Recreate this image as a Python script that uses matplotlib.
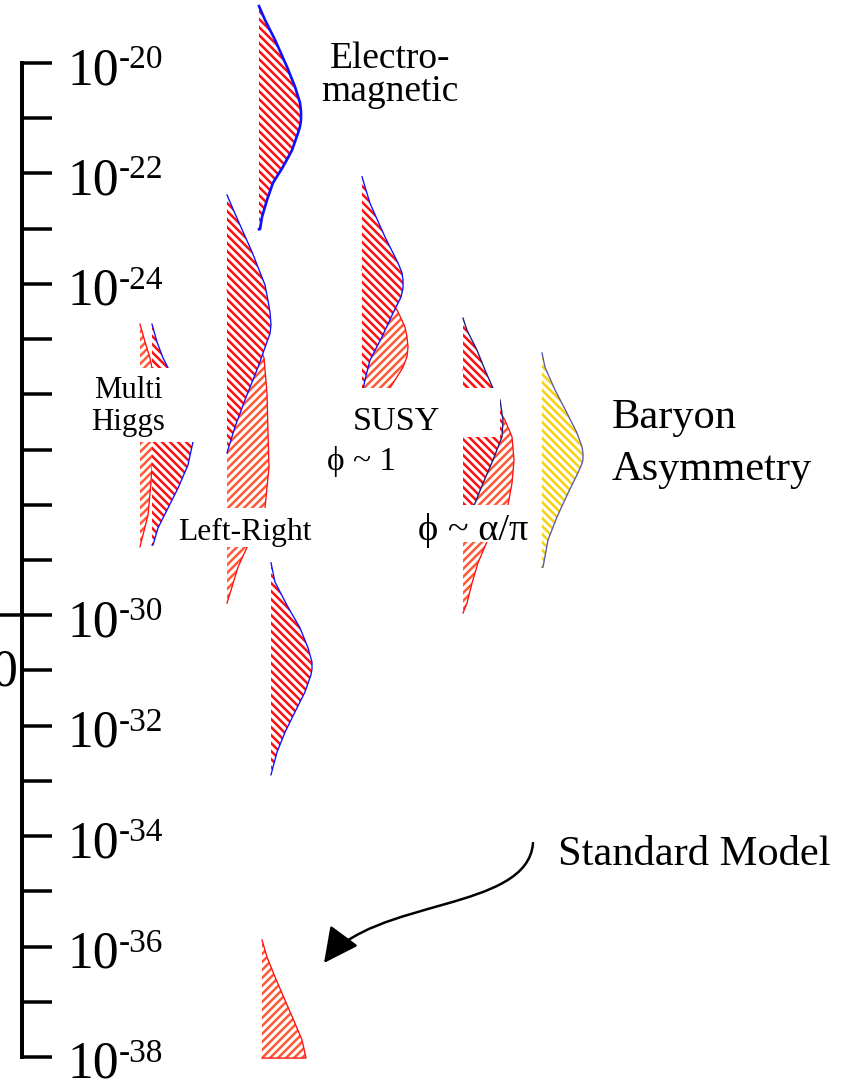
import matplotlib
matplotlib.use("Agg")
import matplotlib.pyplot as plt
import matplotlib.transforms as mtransforms
from matplotlib.patches import Rectangle, FancyArrowPatch
from matplotlib.path import Path
import numpy as np

plt.rcParams['font.family'] = ['Liberation Serif', 'DejaVu Serif']
plt.rcParams['hatch.linewidth'] = 1.5

W, H, DPI = 847, 1083, 120

# decades on the scale (exponent of 10)
tick_exps = list(range(-20, -39, -1))
label_exps = [-20, -22, -24, -30, -32, -34, -36, -38]

# distributions: log10 value along the scale, and profile width
em_exp = [-18.97, -19.22, -19.58, -20.07, -20.43, -20.72, -20.88, -21.03, -21.15, -21.27, -21.58, -21.88, -22.17, -22.48, -22.79, -23.01]
em_w = [0, 6, 16, 28, 36, 41, 42, 42, 41, 39, 33, 24, 14, 8, 3, 1]

lr_exp = [-22.39, -22.81, -23.42, -24.02, -24.30, -24.51, -24.74, -24.90, -25.05, -25.51, -26.10, -26.59, -27.06]
lr_w = [0, 10, 25, 38, 41, 43, 44, 43, 40, 31, 18, 8, 0]
lr2_exp = [-24.11, -24.65, -25.34, -25.98, -26.70, -27.32, -28.06, -28.42, -28.77, -29.13, -29.49, -29.78]
lr2_w = [0, 22, 37, 40, 41, 42, 38, 28, 20, 11, 5, 0]
lr3_exp = [-29.05, -29.40, -29.82, -30.23, -30.59, -30.72, -30.85, -30.97, -31.08, -31.39, -31.75, -32.12, -32.48, -32.89]
lr3_w = [0, 4, 16, 29, 37, 39, 41, 41, 40, 34, 24, 14, 6, 0]

susy_exp = [-22.06, -22.54, -23.15, -23.62, -23.80, -23.93, -24.08, -24.24, -24.53, -24.96, -25.38, -25.74, -26.0]
susy_w = [0, 8, 23, 36, 40, 41, 41, 39, 31, 20, 8, 3, 0]
susy2_exp = [-23.75, -24.11, -24.47, -24.78, -24.96, -25.14, -25.32, -25.51, -25.80, -26.10]
susy2_w = [0, 20, 35, 43, 45, 46, 45, 41, 31, 20]

ap_exp = [-24.62, -24.84, -25.20, -25.56, -25.89, -26.10, -26.47, -26.77, -27.19, -27.61, -27.97, -28.28, -28.55]
ap_w = [0, 4, 14, 22, 30, 37, 40, 39, 30, 20, 12, 5, 0]
ap2_exp = [-25.56, -26.10, -26.47, -26.77, -26.98, -27.19, -27.40, -27.61, -28.00, -28.37, -28.67, -29.05, -29.42, -29.78, -29.96]
ap2_w = [0, 30, 42, 49, 50, 51, 50, 49, 45, 33, 24, 15, 9, 4, 0]

mh_exp = [-24.73, -25.05, -25.34, -25.52, -26.19, -26.86, -27.28, -27.70, -28.06, -28.42, -28.73]
mh_w = [0, 5, 11, 16, 30, 41, 36, 26, 16, 6, 1]
mh2_exp = [-24.73, -25.05, -25.34, -25.52, -26.19, -26.86, -27.59, -28.19, -28.76]
mh2_w = [0, 5, 10, 12, 14, 14, 11, 8, 0]

bar_exp = [-25.25, -25.51, -25.92, -26.34, -26.70, -26.95, -27.07, -27.19, -27.30, -27.42, -27.79, -28.22, -28.64, -29.13]
bar_w = [0, 3, 13, 25, 35, 40, 41, 41, 39, 36, 26, 15, 6, 1]

sm_exp = [-35.88, -36.19, -36.55, -36.97, -37.39, -37.69, -38.02]
sm_w = [0, 5, 13, 23, 33, 40, 44]

RED = '#ff1010'
ORANGE = '#ff5a36'
YELLOW = '#f8d010'
BLUE = '#1010ff'

fig = plt.figure(figsize=(W / DPI, H / DPI), dpi=DPI)
ax = fig.add_axes([0, 0, 1, 1])
ax.set_yscale('log')
ax.set_xlim(0, W)
ax.set_ylim(10 ** -38.471, 10 ** -18.859)
ax.patch.set_alpha(0)

# pixel coordinates measured from the top-left corner
pix = mtransforms.Affine2D().scale(1 / W, -1 / H).translate(0, 1) + fig.transFigure

RED_HATCH = '\\' * 5
ORANGE_HATCH = '/' * 5


def dist(x0, exps, widths, color, hatch, outline, lw=0.8, z=2):
    y = 10.0 ** np.array(exps)
    w = np.array(widths, dtype=float)
    ax.fill_betweenx(y, x0, x0 + w, facecolor='white', edgecolor=color,
                     hatch=hatch, linewidth=0, zorder=z)
    xs = np.concatenate([[x0], x0 + w, [x0]])
    ys = np.concatenate([[y[0]], y, [y[-1]]])
    ax.plot(xs, ys, color=outline, lw=lw, zorder=z + 0.1)


dist(259, em_exp, em_w, RED, RED_HATCH, BLUE, lw=1.6, z=3)
dist(227, lr2_exp, lr2_w, ORANGE, ORANGE_HATCH, RED, z=2)
dist(227, lr_exp, lr_w, RED, RED_HATCH, BLUE, z=3)
dist(271, lr3_exp, lr3_w, RED, RED_HATCH, BLUE, z=3)
dist(362, susy2_exp, susy2_w, ORANGE, ORANGE_HATCH, RED, z=2)
dist(362, susy_exp, susy_w, RED, RED_HATCH, BLUE, z=3)
dist(463, ap2_exp, ap2_w, ORANGE, ORANGE_HATCH, RED, z=2)
dist(463, ap_exp, ap_w, RED, RED_HATCH, '#1a1a80', z=3)
dist(140, mh2_exp, mh2_w, ORANGE, ORANGE_HATCH, RED, z=2)
dist(152, mh_exp, mh_w, RED, RED_HATCH, BLUE, z=3)
dist(542, bar_exp, bar_w, YELLOW, RED_HATCH, '#5a5aa8', z=3)
dist(262, sm_exp, sm_w, ORANGE, ORANGE_HATCH, RED, z=3)

# white label patches
for (bx, by, bw, bh) in [(85, 368, 115, 74), (170, 508, 150, 39),
                         (330, 388, 170, 49), (410, 505, 125, 37)]:
    fig.add_artist(Rectangle((bx, by), bw, bh, transform=pix,
                             facecolor='white', edgecolor='none', zorder=5))

# scale
for s in ['top', 'right', 'bottom']:
    ax.spines[s].set_visible(False)
ax.spines['left'].set_position(('data', 22))
ax.spines['left'].set_bounds(10.0 ** -38, 10.0 ** -20)
ax.spines['left'].set_linewidth(2.4)
ax.set_yticks([10.0 ** e for e in tick_exps])
ax.yaxis.set_minor_locator(plt.NullLocator())
ax.tick_params(axis='y', direction='in', length=18, width=2.1,
               labelleft=False, color='black')
ax.set_xticks([])

for e in label_exps:
    ax.annotate('10', xy=(68, 10.0 ** e), xytext=(0, -21 * 72 / DPI),
                textcoords='offset points', ha='left', va='baseline',
                fontsize=31, zorder=6)
    ax.annotate('-%d' % -e, xy=(119, 10.0 ** e), xytext=(0, -5 * 72 / DPI),
                textcoords='offset points', ha='left', va='baseline',
                fontsize=20, zorder=6)

ax.plot([0, 22], [1e-30, 1e-30], color='black', lw=2.1, solid_capstyle='butt')
ax.annotate('0', xy=(-8, 1e-31), xytext=(0, -15 * 72 / DPI),
            textcoords='offset points', ha='left', va='baseline',
            fontsize=31, annotation_clip=False)

labels = [
    ('Electro-', 390, 68, 22.5, 'center'),
    ('magnetic', 390, 101, 22.5, 'center'),
    ('Multi', 128, 398, 18.5, 'center'),
    ('Higgs', 128, 430, 18.5, 'center'),
    ('Left-Right', 245, 540, 19, 'center'),
    ('SUSY', 396, 430, 20.5, 'center'),
    ('\u03d5 ~ 1', 327, 470, 20, 'left'),
    ('\u03d5 ~ \u03b1/\u03c0', 418, 540, 23, 'left'),
    ('Baryon', 612, 428, 25.5, 'left'),
    ('Asymmetry', 612, 480, 25.5, 'left'),
    ('Standard Model', 558, 865, 25.5, 'left'),
]
for txt, x, y, fs, ha in labels:
    fig.text(x, y, txt, transform=pix, fontsize=fs, ha=ha, va='baseline', zorder=6)

arrow_path = Path([(533, 843), (528, 912), (372, 898), (324, 963)],
                  [Path.MOVETO, Path.CURVE4, Path.CURVE4, Path.CURVE4])
fig.add_artist(FancyArrowPatch(path=arrow_path, transform=pix,
                               arrowstyle='-|>,head_length=1.0,head_width=0.5',
                               mutation_scale=18, color='black', lw=1.5, zorder=6))

fig.savefig('out.png', dpi=DPI)
